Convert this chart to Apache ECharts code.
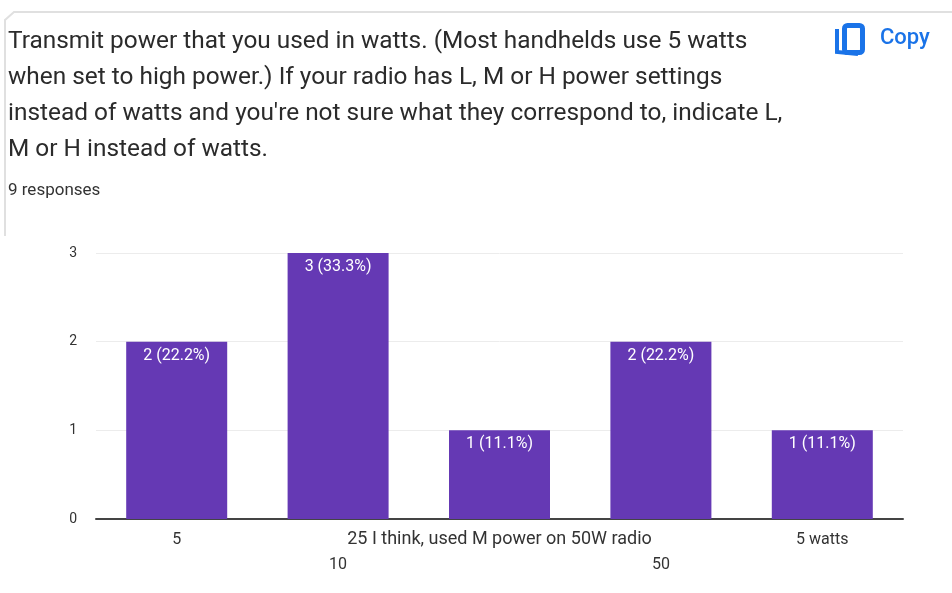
<!DOCTYPE html>
<html><head><meta charset="utf-8">
<style>html,body{margin:0;padding:0;background:#fff}#c{width:952px;height:593px}</style>
<script src="https://cdn.jsdelivr.net/npm/echarts@6/dist/echarts.min.js"></script></head>
<body><div id="c"></div>
<script>
var categories=['5','10','25 I think, used M power on 50W radio','50','5 watts'];
var counts=[2,3,1,2,1];
var labels=['2 (22.2%)','3 (33.3%)','1 (11.1%)','2 (22.2%)','1 (11.1%)'];
var yTicks=[0,1,2,3];
var titleLines=['Transmit power that you used in watts. (Most handhelds use 5 watts','when set to high power.) If your radio has L, M or H power settings',"instead of watts and you're not sure what they correspond to, indicate L,",'M or H instead of watts.'];
var responses='9 responses';
var copyText='Copy';
var chart=echarts.init(document.getElementById('c'),null,{renderer:'canvas'});
var g=[];
g.push({type:'polyline',shape:{points:[[5,236],[5,20],[14,12],[952,12]]},style:{fill:'none',stroke:'#e0e0e0',lineWidth:2}});
titleLines.forEach(function(t,i){g.push({type:'text',left:8,top:30+i*36,style:{text:t,font:'24.4px Roboto, sans-serif',fill:'#2b2b2b'}});});
g.push({type:'text',left:8,top:182,style:{text:responses,font:'17px Roboto, sans-serif',fill:'#333'}});
g.push({type:'text',left:880,top:27,style:{text:copyText,font:'500 22px Roboto, sans-serif',fill:'#1a73e8'}});
g.push({type:'polyline',shape:{points:[[837,29],[837,52],[858,54]]},style:{fill:'none',stroke:'#1a73e8',lineWidth:4}});
g.push({type:'rect',left:842,top:23,shape:{width:18,height:27,r:3},style:{fill:'#fff',stroke:'#1a73e8',lineWidth:5}});
chart.setOption({animation:false,
 grid:{left:96,right:49,top:253,bottom:74,containLabel:false},
 graphic:g,
 xAxis:{type:'category',data:categories,axisTick:{show:false},axisLine:{lineStyle:{color:'#444',width:2}},
  axisLabel:{interval:0,color:'#333',fontSize:16,fontFamily:'Roboto, sans-serif',margin:8,lineHeight:25,
   rich:{wide:{fontSize:18,lineHeight:25,color:'#333',fontFamily:'Roboto, sans-serif'}},
   formatter:function(v,i){if(i===2)return '{wide|'+v+'}';return i%2===1?'\n'+v:v;}}},
 yAxis:{type:'value',min:0,max:3,interval:1,axisLine:{show:false},axisTick:{show:false},
  splitLine:{lineStyle:{color:'#ececec'}},axisLabel:{color:'#333',fontSize:14,fontFamily:'Roboto, sans-serif',margin:19,
   formatter:function(v){return yTicks.indexOf(v)>=0?String(v):'';}}},
 series:[{type:'bar',data:counts,barWidth:101,itemStyle:{color:'#6539b4'},
  label:{show:true,position:'insideTop',distance:6,color:'#fff',fontSize:16,fontFamily:'Roboto, sans-serif',
   formatter:function(p){return labels[p.dataIndex];}}}]
});
</script></body></html>
